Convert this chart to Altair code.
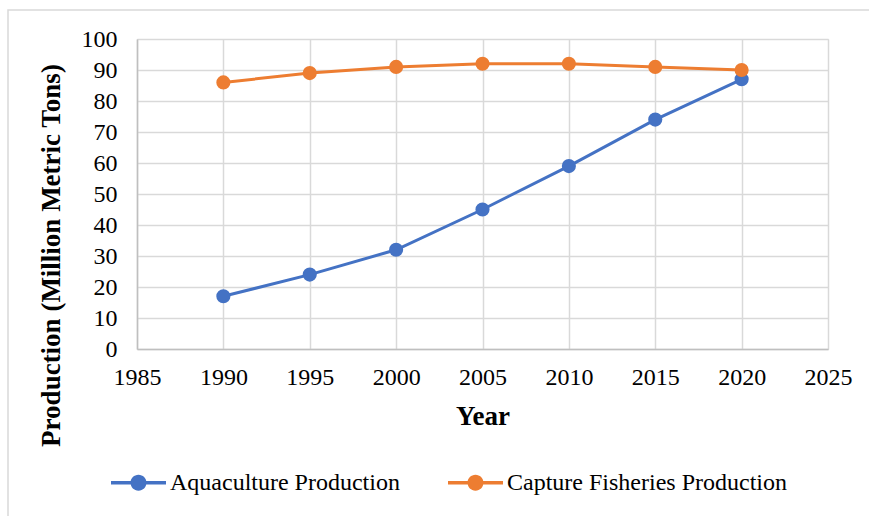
import altair as alt
import pandas as pd

years = [1990, 1995, 2000, 2005, 2010, 2015, 2020]
aquaculture = [17, 24, 32, 45, 59, 74, 87]
capture = [86, 89, 91, 92, 92, 91, 90]
series_names = ["Aquaculture Production", "Capture Fisheries Production"]
series_colors = ["#4472C4", "#ED7D31"]

rows = []
for y, a, c in zip(years, aquaculture, capture):
    rows.append({"Year": y, "Value": a, "Series": series_names[0]})
    rows.append({"Year": y, "Value": c, "Series": series_names[1]})
df = pd.DataFrame(rows)

FONT = "Liberation Serif"
legend_symbol = ("M-1,-0.06 L1,-0.06 L1,0.06 L-1,0.06 Z "
                 "M-0.29,0 A0.29,0.29 0 1,1 0.29,0 A0.29,0.29 0 1,1 -0.29,0 Z")

color = alt.Color(
    "Series:N",
    scale=alt.Scale(domain=series_names, range=series_colors),
    legend=alt.Legend(
        title=None, orient="none", direction="horizontal",
        legendX=-26, legendY=416, padding=0,
        symbolType=legend_symbol, symbolSize=3025, symbolStrokeWidth=0,
        symbolOpacity=1,
        labelFont=FONT, labelFontSize=24, labelColor="#000000", labelLimit=0,
        labelOffset=4, columnPadding=48,
    ),
)

x = alt.X("Year:Q", scale=alt.Scale(domain=[1985, 2025], nice=False, zero=False),
          axis=alt.Axis(values=list(range(1985, 2030, 5)), format="d",
                        title="Year", titleFont=FONT, titleFontSize=27,
                        titleFontWeight="bold", titleColor="#000000",
                        titlePadding=14,
                        labelFont=FONT, labelFontSize=24, labelColor="#000000",
                        labelPadding=16, tickSize=0, labelFlush=False,
                        labelOverlap=False,
                        domainColor="#BFBFBF", domainWidth=1.5,
                        gridColor="#D9D9D9", gridWidth=1.5))
y = alt.Y("Value:Q", scale=alt.Scale(domain=[0, 100], nice=False),
          axis=alt.Axis(values=list(range(0, 110, 10)),
                        title="Production (Million Metric Tons)",
                        titleFont=FONT, titleFontSize=27, titleFontWeight="bold",
                        titleColor="#000000", titleX=-72, titleY=216,
                        labelFont=FONT, labelFontSize=24, labelColor="#000000",
                        labelPadding=20, tickSize=0, labelFlush=False,
                        labelOverlap=False,
                        domainColor="#BFBFBF", domainWidth=1.5,
                        gridColor="#D9D9D9", gridWidth=1.5))

lines = alt.Chart(df).mark_line(strokeWidth=3).encode(x=x, y=y, color=color)
points = alt.Chart(df).mark_point(filled=True, size=200, opacity=1).encode(
    x=x, y=y, color=color)

border = alt.Chart(pd.DataFrame({"a": [0]})).mark_rect(
    fill=None, stroke="#D9D9D9", strokeWidth=1.5, clip=False).encode(
    x=alt.value(-129), x2=alt.value(740), y=alt.value(-29), y2=alt.value(485))

chart = alt.layer(border, lines, points).properties(
    width=691, height=310,
    autosize=alt.AutoSizeParams(type="none"),
    padding={"left": 137, "top": 39, "right": 41, "bottom": 167},
).configure_view(stroke=None).configure(background="white")

chart.save("out.html", embed_options={"renderer": "svg", "actions": False})
